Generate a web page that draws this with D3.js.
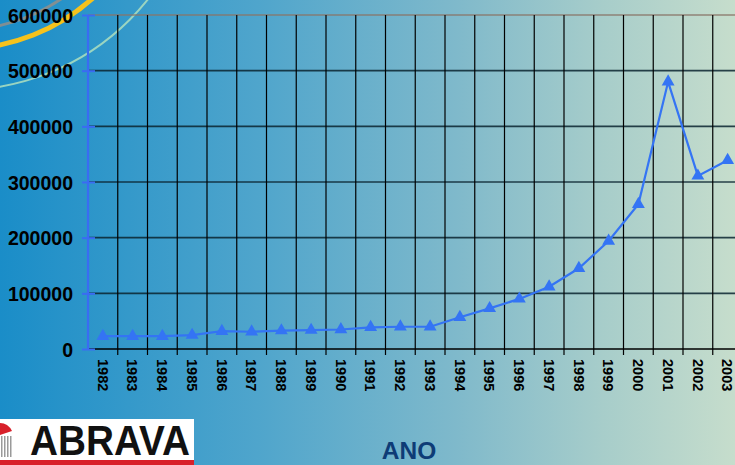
<!DOCTYPE html>
<html>
<head>
<meta charset="utf-8">
<script src="https://cdn.jsdelivr.net/npm/d3@7"></script>
<style>
  html, body { margin: 0; padding: 0; overflow: hidden; }
  svg { display: block; font-family: "Liberation Sans", Arial, sans-serif; }
</style>
</head>
<body>
<svg id="chart" width="735" height="465"></svg>
<script>
// data
var years = ["1982","1983","1984","1985","1986","1987","1988","1989","1990","1991","1992",
             "1993","1994","1995","1996","1997","1998","1999","2000","2001","2002","2003"];
var values = [23000, 23000, 23000, 25000, 32000, 31000, 33000, 34000, 35000, 39000, 40000,
              40000, 57000, 73000, 90000, 112000, 145000, 194000, 260000, 480000, 311000, 339000];
var yTicks = [0, 100000, 200000, 300000, 400000, 500000, 600000];
var axisTitle = "ANO";

var svg = d3.select("#chart"),
    width = +svg.attr("width"),
    height = +svg.attr("height");

// background gradient
var defs = svg.append("defs");
var bg = defs.append("linearGradient").attr("id", "bg")
    .attr("x1", "0").attr("y1", "0").attr("x2", "1").attr("y2", "0");
bg.append("stop").attr("offset", "0").attr("stop-color", "#1a8dc8");
bg.append("stop").attr("offset", "0.35").attr("stop-color", "#4fa5cc");
bg.append("stop").attr("offset", "0.62").attr("stop-color", "#7fb9cb");
bg.append("stop").attr("offset", "0.82").attr("stop-color", "#a7cdca");
bg.append("stop").attr("offset", "1").attr("stop-color", "#c6ddcc");
svg.append("rect").attr("width", width).attr("height", height).attr("fill", "url(#bg)");

// decorative arcs top-left
var deco = svg.append("g").attr("fill", "none");
deco.append("circle").attr("cx", -40).attr("cy", -150).attr("r", 180)
    .attr("stroke", "#9a8f86").attr("stroke-width", 3).attr("opacity", 0.8);
deco.append("circle").attr("cx", -40).attr("cy", -150).attr("r", 199)
    .attr("stroke", "#f6c21c").attr("stroke-width", 5);
deco.append("circle").attr("cx", -40).attr("cy", -150).attr("r", 240)
    .attr("stroke", "#a6dcc0").attr("stroke-width", 2).attr("opacity", 0.9);

var plotLeft = 88, plotTop = 15, plotBottom = 349, step = 29.75;

var x = d3.scaleBand().domain(years).range([plotLeft, plotLeft + step * years.length]).padding(0);
var y = d3.scaleLinear().domain([0, 600000]).range([plotBottom, plotTop]);

// horizontal grid
svg.append("g").selectAll("line").data(yTicks.filter(function(d) { return d > 0; }))
  .enter().append("line")
    .attr("x1", plotLeft).attr("x2", width)
    .attr("y1", function(d) { return y(d); }).attr("y2", function(d) { return y(d); })
    .attr("stroke", function(d) { return d === 600000 ? "#8a766a" : "#0b2530"; })
    .attr("stroke-width", 1.6)
    .attr("opacity", 0.85);

// vertical grid (category boundaries), extending into the tick marks below
svg.append("g").selectAll("line").data(years)
  .enter().append("line")
    .attr("x1", function(d) { return x(d) + x.bandwidth(); })
    .attr("x2", function(d) { return x(d) + x.bandwidth(); })
    .attr("y1", plotTop).attr("y2", plotBottom + 6)
    .attr("stroke", "#000").attr("stroke-width", 1.2);

// category axis line
svg.append("line").attr("x1", plotLeft).attr("x2", width)
    .attr("y1", plotBottom).attr("y2", plotBottom)
    .attr("stroke", "#000").attr("stroke-width", 1.6);

// value axis
var yAxis = svg.append("g").attr("transform", "translate(" + plotLeft + ",0)")
    .call(d3.axisLeft(y).tickValues(yTicks).tickSize(0).tickFormat(""));
yAxis.select(".domain").remove();
yAxis.append("line").attr("y1", plotTop).attr("y2", plotBottom)
    .attr("stroke", "#3a6cf2").attr("stroke-width", 2.2);
yAxis.selectAll(".tick").append("line")
    .attr("x1", -6).attr("x2", 7)
    .attr("stroke", "#3a6cf2").attr("stroke-width", 2);
yAxis.selectAll(".tick").append("text")
    .attr("x", -15).attr("dy", "0.36em")
    .attr("text-anchor", "end")
    .attr("fill", "#000")
    .style("font-size", "19.5px").style("font-weight", "bold")
    .text(function(d) { return d; });

// year labels, rotated
svg.append("g").selectAll("text").data(years)
  .enter().append("text")
    .attr("transform", function(d) {
      return "translate(" + (x(d) + x.bandwidth() / 2) + ",359) rotate(90)";
    })
    .attr("dy", "0.36em")
    .attr("fill", "#000")
    .style("font-size", "14.5px").style("font-weight", "bold")
    .text(function(d) { return d; });

// series
var line = d3.line()
    .x(function(d, i) { return x(years[i]) + x.bandwidth() / 2; })
    .y(function(d) { return y(d); });
svg.append("path").datum(values)
    .attr("d", line)
    .attr("fill", "none")
    .attr("stroke", "#3474f4").attr("stroke-width", 2.2);

svg.append("g").selectAll("path").data(values)
  .enter().append("path")
    .attr("d", d3.symbol().type(d3.symbolTriangle).size(72))
    .attr("transform", function(d, i) {
      return "translate(" + (x(years[i]) + x.bandwidth() / 2) + "," + y(d) + ")";
    })
    .attr("fill", "#3474f4");

// axis title
svg.append("text")
    .attr("x", 409).attr("y", 459)
    .attr("text-anchor", "middle")
    .attr("fill", "#0e3c76")
    .style("font-size", "24.5px").style("font-weight", "bold")
    .text(axisTitle);

// ABRAVA logo block
var logo = svg.append("g");
logo.append("rect").attr("x", 0).attr("y", 419).attr("width", 194).attr("height", 46).attr("fill", "#fff");
logo.append("rect").attr("x", 0).attr("y", 460).attr("width", 194).attr("height", 5).attr("fill", "#d8202a");
logo.append("path").attr("d", "M0,423 Q8,423 12,431 L0,435 Z").attr("fill", "#d8202a");
logo.selectAll("rect.bar").data([1, 4, 7, 10]).enter().append("rect")
    .attr("class", "bar")
    .attr("x", function(d) { return d; }).attr("y", 436).attr("width", 1.5).attr("height", 21)
    .attr("fill", "#9a9a9a");
logo.append("text")
    .attr("x", 30).attr("y", 455)
    .attr("textLength", 160).attr("lengthAdjust", "spacingAndGlyphs")
    .attr("fill", "#111")
    .style("font-size", "43px").style("font-weight", "bold")
    .text("ABRAVA");
</script>
</body>
</html>
